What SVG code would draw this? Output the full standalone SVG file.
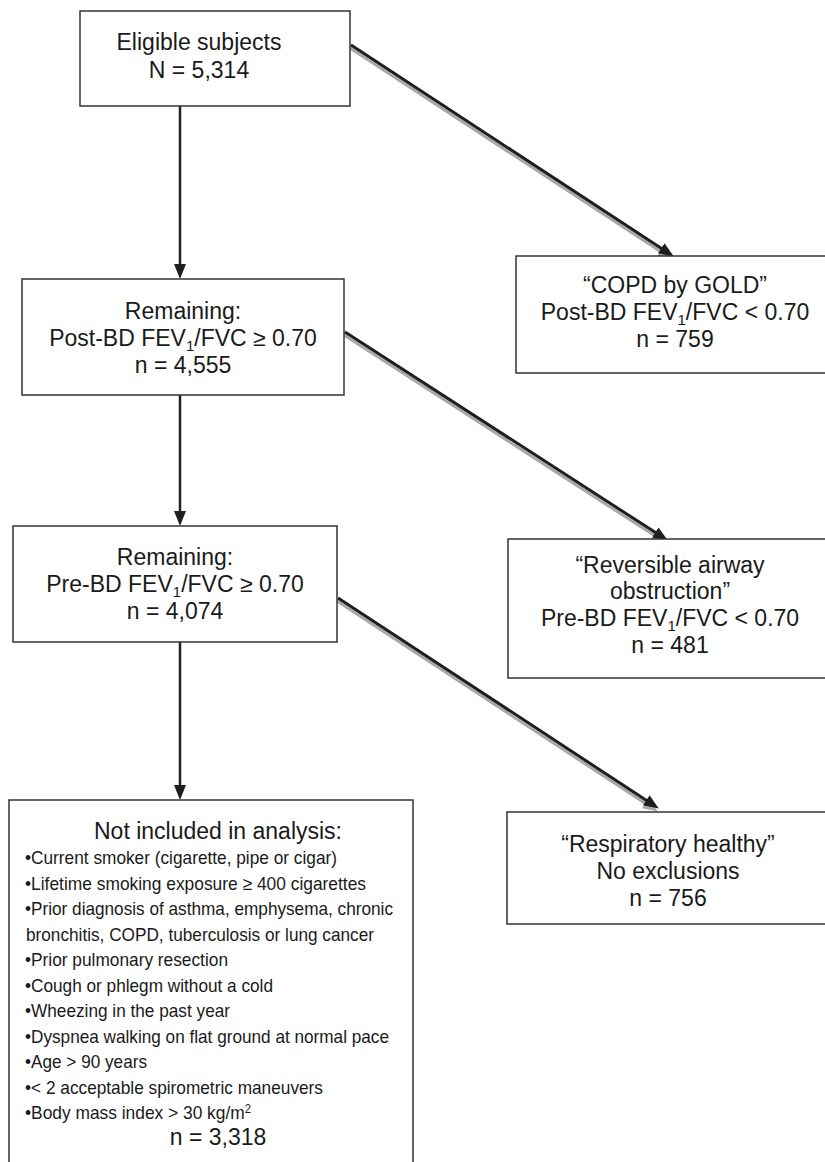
<svg xmlns="http://www.w3.org/2000/svg" width="825" height="1162" viewBox="0 0 825 1162">
<style>
.box{fill:#fff;stroke:#333;stroke-width:1.5}
.t{font-family:"Liberation Sans",Arial,sans-serif;font-size:23px;fill:#1a1a1a;text-anchor:middle}
.b{font-family:"Liberation Sans",Arial,sans-serif;font-size:18.5px;fill:#1a1a1a}
.v{stroke:#222;stroke-width:2.5;fill:none}
.d{stroke:#1e1e1e;stroke-width:3;fill:none}
.s{stroke:#a8a8a8;stroke-width:3;fill:none}
</style>
<defs>
<marker id="ah" markerUnits="userSpaceOnUse" markerWidth="16" markerHeight="12" refX="4" refY="6" orient="auto" viewBox="0 0 16 12">
<path d="M0,0 L15,6 L0,12 z" fill="#1e1e1e"/>
</marker>
<marker id="ahs" markerUnits="userSpaceOnUse" markerWidth="16" markerHeight="12" refX="4" refY="6" orient="auto" viewBox="0 0 16 12">
<path d="M0,0 L15,6 L0,12 z" fill="#a8a8a8"/>
</marker>
</defs>
<rect width="825" height="1162" fill="#fff"/>
<g id="connectors">
<g transform="translate(-1,3)">
<path class="s" d="M351,45 L664.6,250.5" marker-end="url(#ahs)"/>
<path class="s" d="M345,332 L658.6,534.6" marker-end="url(#ahs)"/>
<path class="s" d="M338,598 L649.6,802.5" marker-end="url(#ahs)"/>
</g>
<path class="d" d="M351,45 L664.6,250.5" marker-end="url(#ah)"/>
<path class="d" d="M345,332 L658.6,534.6" marker-end="url(#ah)"/>
<path class="d" d="M338,598 L649.6,802.5" marker-end="url(#ah)"/>
<path class="v" d="M180,106 L180,268" marker-end="url(#ah)"/>
<path class="v" d="M180,395 L180,515" marker-end="url(#ah)"/>
<path class="v" d="M180,642 L180,789" marker-end="url(#ah)"/>
</g>
<g id="eligible">
<rect class="box" x="80" y="11" width="270" height="95"/>
<text class="t" x="199" y="50">Eligible subjects</text>
<text class="t" x="199" y="78">N = 5,314</text>
</g>
<g id="copd">
<rect class="box" x="516" y="256" width="320" height="117"/>
<text class="t" x="675" y="293">“COPD by GOLD”</text>
<text class="t" x="675" y="320">Post-BD FEV<tspan font-size="15" dy="5">1</tspan><tspan dy="-5">/FVC &lt; 0.70</tspan></text>
<text class="t" x="675" y="347">n = 759</text>
</g>
<g id="remaining1">
<rect class="box" x="22" y="279" width="322" height="116"/>
<text class="t" x="183" y="319">Remaining:</text>
<text class="t" x="183" y="346">Post-BD FEV<tspan font-size="15" dy="5">1</tspan><tspan dy="-5">/FVC ≥ 0.70</tspan></text>
<text class="t" x="183" y="373">n = 4,555</text>
</g>
<g id="remaining2">
<rect class="box" x="13" y="526" width="324" height="116"/>
<text class="t" x="175" y="565">Remaining:</text>
<text class="t" x="175" y="592">Pre-BD FEV<tspan font-size="15" dy="5">1</tspan><tspan dy="-5">/FVC ≥ 0.70</tspan></text>
<text class="t" x="175" y="619">n = 4,074</text>
</g>
<g id="reversible">
<rect class="box" x="508" y="539" width="330" height="139"/>
<text class="t" x="670" y="573">“Reversible airway</text>
<text class="t" x="670" y="599">obstruction”</text>
<text class="t" x="670" y="626">Pre-BD FEV<tspan font-size="15" dy="5">1</tspan><tspan dy="-5">/FVC &lt; 0.70</tspan></text>
<text class="t" x="670" y="653">n = 481</text>
</g>
<g id="healthy">
<rect class="box" x="507" y="812" width="330" height="112"/>
<text class="t" x="668" y="852">“Respiratory healthy”</text>
<text class="t" x="668" y="879">No exclusions</text>
<text class="t" x="668" y="906">n = 756</text>
</g>
<g id="excluded">
<rect class="box" x="9" y="800" width="404" height="380"/>
<text class="t" x="218" y="839">Not included in analysis:</text>
<text class="b" x="25" y="864" textLength="312" lengthAdjust="spacingAndGlyphs">•Current smoker (cigarette, pipe or cigar)</text>
<text class="b" x="25" y="889.5" textLength="341" lengthAdjust="spacingAndGlyphs">•Lifetime smoking exposure ≥ 400 cigarettes</text>
<text class="b" x="25" y="915" textLength="368" lengthAdjust="spacingAndGlyphs">•Prior diagnosis of asthma, emphysema, chronic</text>
<text class="b" x="26" y="940.5" textLength="348" lengthAdjust="spacingAndGlyphs">bronchitis, COPD, tuberculosis or lung cancer</text>
<text class="b" x="25" y="966" textLength="203" lengthAdjust="spacingAndGlyphs">•Prior pulmonary resection</text>
<text class="b" x="25" y="991.5" textLength="248" lengthAdjust="spacingAndGlyphs">•Cough or phlegm without a cold</text>
<text class="b" x="25" y="1017" textLength="205" lengthAdjust="spacingAndGlyphs">•Wheezing in the past year</text>
<text class="b" x="25" y="1042.5" textLength="364" lengthAdjust="spacingAndGlyphs">•Dyspnea walking on flat ground at normal pace</text>
<text class="b" x="25" y="1068" textLength="122" lengthAdjust="spacingAndGlyphs">•Age &gt; 90 years</text>
<text class="b" x="25" y="1093.5" textLength="298" lengthAdjust="spacingAndGlyphs">•&lt; 2 acceptable spirometric maneuvers</text>
<text class="b" x="25" y="1119" textLength="226" lengthAdjust="spacingAndGlyphs">•Body mass index &gt; 30 kg/m<tspan font-size="12" dy="-6">2</tspan></text>
<text class="t" x="218" y="1145">n = 3,318</text>
</g>
</svg>
